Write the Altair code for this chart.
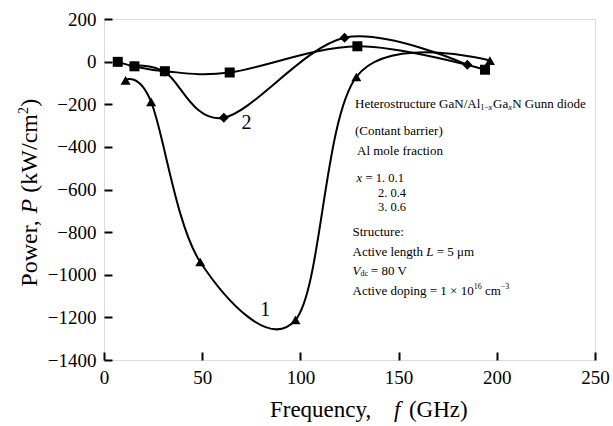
import altair as alt
import pandas as pd

# ---- data ----
# curve 1 : x = 0.1 (triangles)
f1 = [11, 24, 49, 97.5, 128.5, 196.5]
p1 = [-88, -189, -940, -1212, -72, 5]
# curve 2 : x = 0.4 (diamonds)
f2 = [15, 31, 61, 122.5, 185]
p2 = [-20, -48, -263, 112, -15]
# curve 3 : x = 0.6 (squares)
f3 = [7, 15.5, 31, 64, 129, 194]
p3 = [-1, -22, -45, -51, 72, -38]

x_ticks = [0, 50, 100, 150, 200, 250]
y_ticks = [200, 0, -200, -400, -600, -800, -1000, -1200, -1400]

FONT = "Liberation Serif"

df = pd.concat([
    pd.DataFrame({"series": "1", "f": f1, "P": p1}),
    pd.DataFrame({"series": "2", "f": f2, "P": p2}),
    pd.DataFrame({"series": "3", "f": f3, "P": p3}),
])

X = alt.X("f:Q", scale=alt.Scale(domain=[0, 250], nice=False),
          axis=alt.Axis(values=x_ticks, title=None, grid=False,
                        domain=False, ticks=True, tickSize=8, tickWidth=2,
                        tickColor="black", offset=-8, labelPadding=8,
                        labelFlush=False, format="d",
                        labelFont=FONT, labelFontSize=19, labelColor="black"))
Y = alt.Y("P:Q", scale=alt.Scale(domain=[-1400, 200], nice=False),
          axis=alt.Axis(values=y_ticks, title=None, grid=False,
                        domain=False, ticks=True, tickSize=8, tickWidth=2,
                        tickColor="black", offset=-8, labelPadding=8,
                        labelFlush=False, format="d",
                        labelFont=FONT, labelFontSize=19, labelColor="black"))

base = alt.Chart(df)
lines = base.mark_line(interpolate="cardinal", color="black", strokeWidth=2).encode(
    x=X, y=Y, detail="series:N")
pts = base.mark_point(filled=True, color="black", opacity=1, size=100).encode(
    x=X, y=Y,
    shape=alt.Shape("series:N",
                    scale=alt.Scale(domain=["1", "2", "3"],
                                    range=["triangle-up", "diamond", "square"]),
                    legend=None))


def txt(s, f, p, dx=0, dy=0, size=13, italic=False, angle=0):
    d = pd.DataFrame({"f": [f], "P": [p], "t": [s]})
    kw = dict(align="left", baseline="middle", dx=dx, dy=dy, fontSize=size,
              font=FONT, fontStyle="italic" if italic else "normal", color="black")
    if angle:
        kw["angle"] = angle
    return alt.Chart(d).mark_text(**kw).encode(x=X, y=Y, text="t:N")


F0 = 127.8
SP = 3.3  # width of a space at 13 px
texts = [
    # line 1 with subscripts
    txt("Heterostructure GaN/Al", F0, -200),
    txt("1\u2212", F0, -200, dx=125.3, dy=3, size=8.5),
    txt("x", F0, -200, dx=133.6, dy=3, size=8.5, italic=True),
    txt("Ga", F0, -200, dx=138.0),
    txt("x", F0, -200, dx=153.2, dy=3, size=8.5, italic=True),
    txt("N Gunn diode", F0, -200, dx=157.2),
    txt("(Contant barrier)", F0, -326),
    txt("Al mole fraction", F0, -420, dx=2),
    txt("x", F0, -548, dx=1.5, size=12.5, italic=True),
    txt("= 1. 0.1", F0, -548, dx=7.3 + SP, size=12.5),
    txt("2. 0.4", F0, -616, dx=23, size=12.5),
    txt("3. 0.6", F0, -684, dx=23, size=12.5),
    txt("Structure:", F0, -801, dx=-2.5),
    txt("Active length", F0, -893, dx=-2.5),
    txt("L", F0, -893, dx=71.2, italic=True),
    txt("= 5 \u03bcm", F0, -893, dx=78.4 + SP),
    txt("V", F0, -984.5, dx=-2.5, italic=True),
    txt("dc", F0, -984.5, dx=5.6, dy=3, size=8),
    txt("= 80 V", F0, -984.5, dx=12.5 + SP),
    txt("Active doping = 1 \u00d7 10", F0, -1076, dx=-2.5),
    txt("16", F0, -1076, dx=118.7, dy=-4, size=8),
    txt("cm", F0, -1076, dx=126.7 + SP),
    txt("\u22123", F0, -1076, dx=145.8, dy=-4, size=8),
    # curve labels
    txt("2", 70, -286, size=20),
    txt("1", 79.5, -1165, size=20),
    # x-axis title (with italic f)
    txt("Frequency,", 84.5, -1634, size=23),
    txt("f", 84.5, -1634, dx=124, size=23, italic=True),
    txt("(GHz)", 84.5, -1634, dx=139, size=23),
    # y-axis title (rotated, with italic P)
    txt("Power,", -37.7, -1056, size=24, angle=270),
    txt("P", -37.7, -1056, dx=73.3, size=24, italic=True, angle=270),
    txt("(kW/cm", -37.7, -1056, dx=94, size=24, angle=270),
    txt("2", -37.7, -1056, dx=172.6, dy=-6, size=14, angle=270),
    txt(")", -37.7, -1056, dx=180, size=24, angle=270),
]

chart = alt.layer(lines, pts, *texts).properties(
    width=491, height=341,
    autosize=alt.AutoSizeParams(type="none"),
    padding={"left": 104, "top": 19, "right": 18, "bottom": 66},
).configure_view(stroke="black", strokeWidth=2).configure(background="white")

chart.save("out.html", embed_options={"renderer": "svg", "actions": False})
